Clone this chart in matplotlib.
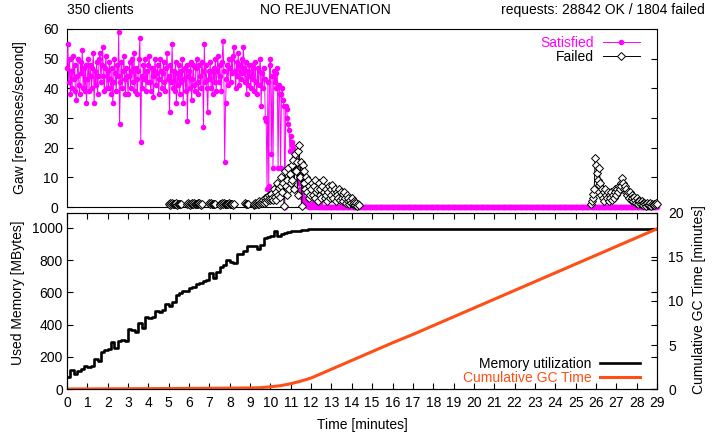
import numpy as np
import matplotlib
matplotlib.use("Agg")
import matplotlib.pyplot as plt

plt.rcParams["font.family"] = ["Liberation Sans", "DejaVu Sans"]
plt.rcParams["font.size"] = 10

MAG = "#ff00ff"; ORG = "#ff4f14"; INK = "#000000"

# ── request rates (2.5 s samples, 24 per minute) ────────────────────────────
STEP = 2.5 / 60
sat_active = [
    47, 55, 42, 50, 38, 46, 40, 51, 43, 48, 39, 36, 44, 50, 41, 38, 49, 45, 53, 40, 47, 39, 48, 35,
    43, 50, 39, 48, 44, 40, 47, 52, 35, 46, 41, 49, 38, 44, 50, 52, 42, 48, 54, 44, 39, 47, 51, 40,
    46, 40, 49, 43, 38, 47, 35, 42, 50, 45, 39, 48, 44, 59, 28, 42, 49, 40, 46, 51, 43, 38, 47, 44,
    38, 44, 49, 40, 46, 50, 42, 52, 39, 47, 43, 38, 46, 50, 57, 22, 44, 40, 48, 43, 50, 39, 46, 42,
    48, 51, 42, 39, 47, 44, 37, 46, 50, 41, 45, 48, 38, 43, 50, 46, 40, 45, 49, 42, 39, 47, 52, 43,
    44, 32, 48, 42, 55, 40, 46, 39, 49, 35, 45, 41, 48, 38, 46, 42, 50, 35, 43, 47, 39, 48, 29, 44,
    46, 40, 49, 36, 43, 48, 41, 39, 47, 50, 42, 38, 48, 44, 40, 49, 46, 27, 55, 42, 48, 40, 32, 46,
    43, 49, 40, 46, 38, 47, 42, 50, 39, 46, 51, 42, 48, 44, 39, 49, 56, 46, 15, 35, 43, 48, 41, 50,
    47, 42, 50, 45, 51, 54, 46, 40, 49, 44, 52, 41, 48, 43, 50, 45, 54, 47, 42, 49, 38, 46, 41, 48,
    44, 40, 48, 43, 47, 39, 49, 42, 38, 47, 41, 46, 50, 34, 45, 40, 47, 43, 30, 29, 6, 42, 7, 48,
    50, 18, 44, 13, 46, 42, 45, 40, 47, 13, 41, 38, 13, 38, 40, 36, 34, 0, 34, 33, 30, 28, 26, 19,
    24, 22, 21, 20, 17, 15, 14, 12, 11, 9, 8, 6, 3.5, 4, 2, 3, 1.5, 1, 2, 0.5, 1, 0, 0.5, 0,
    0, 1, 0, 2, 0, 0.5, 0, 1, 0, 0, 1.5, 0,
]
n_tail = 29 * 24 + 1 - len(sat_active)
satisfied = sat_active + [0.0] * n_tail

fail_starts = [5.0, 5.917, 7.0, 7.5, 8.75, 9.167, 25.75]
fail_vals = [
    [1, 1.2, 0.8, 1, 1.3, 1, 0.9, 1.1, 1, 1.2, 0.8, 1, 1.1, 1, 0.9],
    [1, 1.2, 1, 0.8, 1.1, 1, 1.3, 1, 1.2, 1, 0.9, 1.1, 1, 1.2, 1.4, 1, 0.8, 1],
    [1.5, 1, 1.2, 1, 1.1, 0.9, 1],
    [1, 0.8, 1, 1.2, 1, 1.3, 1, 0.9, 1, 1.1, 1, 1.2, 0.9, 1, 1.1, 1, 0.8, 1],
    [1.2, 1, 1.1, 0.9],
    [0.8, 1, 1.2, 1, 1.5, 1.1, 2, 1, 1.3, 1.8, 1.2,
     2.5, 1.5, 3, 2, 1.8, 3.5, 2.2, 4, 2.5, 3,
     4.5, 3, 2.5, 6, 3.5, 5, 2.5, 8, 4, 6.5, 3.5, 7,
     10, 5, 8, 0.5, 12, 7, 9, 4, 13, 6, 11, 8,
     14, 9, 16, 6, 18, 12, 15, 4, 19, 21, 10, 15,
     0.5, 14, 8, 12, 6, 10, 5, 9, 3, 7, 4, 6,
     8, 4, 7, 3, 9, 5, 6, 2, 8, 4, 6, 3, 7, 9.2, 5, 3, 6, 4, 2, 5, 7, 3, 6, 4,
     7.5, 3, 5, 6, 2, 5, 4, 3, 6, 2.5, 5.2, 3, 4.5, 2, 5, 3, 1.5, 4, 2, 3, 1, 2.5, 1.5, 3,
     1, 2, 1.5, 0.8, 1.2, 0.5, 1, 0.8],
    [1, 2, 3, 4.5, 6, 16.5, 14, 11.5, 9, 7.5, 13, 8, 4, 6, 3, 5, 2, 6, 4, 3, 5,
     2, 4, 3, 5, 2.5, 4, 3, 6, 5, 4, 6, 5, 7, 6, 8, 7, 9.7, 8, 6, 7, 5, 6, 4, 5,
     3, 5, 2.5, 4, 3, 2, 3.5, 2.5, 1.5, 3, 2, 1, 2, 1.5, 1, 2, 1.2, 0.8, 1.5, 1, 0.5, 1.2, 0.8, 1,
     0.8, 1.2, 0.5, 1, 0.7, 1.1, 0.6, 0.9, 1.3, 1],
]

# ── memory (10 s samples up to 12 min, then flat) ───────────────────────────
MEM_STEP = 10 / 60
mem_vals = [
    72, 115, 90, 112, 125, 145, 138, 140, 188, 172, 232, 240,
    250, 292, 255, 298, 305, 300, 372, 368, 352, 412, 380, 448,
    440, 448, 485, 478, 488, 530, 512, 540, 583, 598, 605, 610,
    628, 632, 650, 660, 670, 676, 718, 690, 728, 758, 770, 800,
    790, 780, 835, 840, 855, 888, 890, 888, 870, 895, 935, 945,
    950, 980, 950, 960, 970, 975, 978, 980, 982, 985, 988, 990,
    992,
]
mem_flat = 993

# ── cumulative GC time [minutes] ────────────────────────────────────────────
gc_t = [0, 2, 4, 6, 8, 9, 9.5, 10, 10.5, 11, 11.5, 12, 13, 14, 15, 16, 17, 18,
        19, 20, 21, 22, 23, 24, 25, 26, 27, 28, 29]
gc_v = [0, 0.02, 0.04, 0.07, 0.1, 0.12, 0.15, 0.25, 0.38, 0.6, 0.9, 1.25, 2.25,
        3.25, 4.25, 5.25, 6.2, 7.2, 8.2, 9.2, 10.2, 11.2, 12.2, 13.2, 14.2,
        15.2, 16.2, 17.2, 18.2]

t_sat = np.arange(len(satisfied)) * STEP
t_fail, failed = [], []
for s, vals in zip(fail_starts, fail_vals):
    t_fail += [s + k * STEP for k in range(len(vals))] + [np.nan]
    failed += vals + [np.nan]
t_mem = list(np.arange(len(mem_vals)) * MEM_STEP) + [29]
mem = mem_vals + [mem_flat]

W, H = 717, 436
fig = plt.figure(figsize=(W / 100, H / 100), dpi=100)
ax1 = fig.add_axes([67 / W, 1 - 207 / H, 590 / W, 178 / H])
ax2 = fig.add_axes([67 / W, 1 - 389 / H, 590 / W, 176 / H])
ax3 = ax2.twinx()

for a in (ax1, ax2, ax3):
    for sp in a.spines.values():
        sp.set_linewidth(0.8)

# top panel
h1, = ax1.plot(t_sat, satisfied, color=MAG, lw=0.7, marker="o", ms=4, mew=0,
               label="Satisfied", clip_on=False, zorder=3)
h2, = ax1.plot(t_fail, failed, color=INK, lw=0.7, marker="D", ms=3.7, mfc="white",
               mec=INK, mew=0.7, label="Failed", clip_on=False, zorder=4)
ax1.set_xlim(0, 29); ax1.set_ylim(0, 60)
ax1.set_yticks(range(0, 61, 10))
ax1.set_xticks([])
ax1.tick_params(axis="y", direction="in", length=4.5, right=True, pad=6)
ax1.legend(handles=[h1, h2], loc="upper right", bbox_to_anchor=(640 / W, 1 - 36 / H),
           bbox_transform=fig.transFigure, frameon=False, markerfirst=False,
           handlelength=2.7, handletextpad=0.6, labelspacing=0.02,
           borderaxespad=0, borderpad=0, labelcolor="linecolor")

# bottom panel
h3, = ax2.step(t_mem, mem, where="post", color=INK, lw=1.9, label="Memory utilization")
h4, = ax3.plot(gc_t, gc_v, color=ORG, lw=2.2, label="Cumulative GC Time")
ax2.set_xlim(0, 29); ax2.set_ylim(0, 1092)
ax3.set_ylim(0, 20)
ax2.set_xticks(range(0, 30))
ax2.set_yticks(range(0, 1001, 200))
ax3.set_yticks(range(0, 21, 5))
ax2.tick_params(axis="x", direction="in", length=4.5, top=True, pad=5)
ax2.tick_params(axis="y", direction="in", length=4.5, right=True, pad=3)
ax3.tick_params(axis="y", direction="in", length=4.5, pad=8)
ax3.legend(handles=[h3, h4], loc="upper right", bbox_to_anchor=(640 / W, 1 - 357 / H),
           bbox_transform=fig.transFigure, frameon=False, markerfirst=False,
           handlelength=2.9, handletextpad=0.6, labelspacing=0.02,
           borderaxespad=0, borderpad=0, labelcolor="linecolor")

# labels
fig.text(20 / W, 1 - 118 / H, "Gaw [responses/second]", rotation=90, ha="center", va="center")
fig.text(18 / W, 1 - 293 / H, "Used Memory [MBytes]", rotation=90, ha="center", va="center")
fig.text(699 / W, 1 - 300 / H, "Cumulative GC Time [minutes]", rotation=90, ha="center", va="center")
fig.text(362 / W, 1 - 425 / H, "Time [minutes]", ha="center", va="center")

fig.text(67 / W, 1 - 10 / H, "350 clients", ha="left", va="center")
fig.text(325 / W, 1 - 10 / H, "NO REJUVENATION", ha="center", va="center")
fig.text(705 / W, 1 - 10 / H, "requests: 28842 OK / 1804 failed", ha="right", va="center")

fig.savefig("out.png", dpi=100, facecolor="white")
